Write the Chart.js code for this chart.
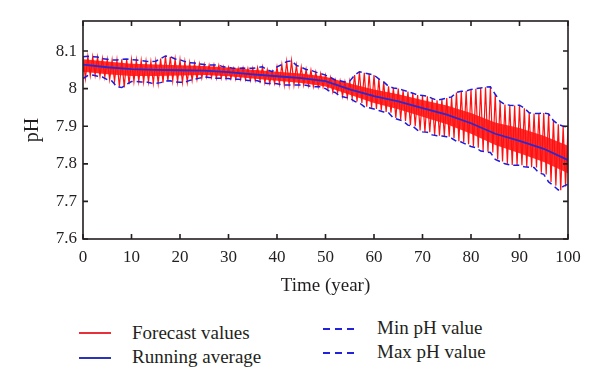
<!DOCTYPE html>
<html>
<head>
<meta charset="utf-8">
<script src="https://cdn.jsdelivr.net/npm/chart.js@4.4.1/dist/chart.umd.min.js"></script>
<style>
  html, body { margin: 0; padding: 0; background: #fff; }
  #wrap { position: relative; width: 600px; height: 390px; font-family: 'Liberation Serif', 'DejaVu Serif', serif; color: #231f20; }
  #c { position: absolute; left: 0; top: 0; }
  .lg-line { position: absolute; height: 2px; width: 32px; }
  .lg-dash { background: repeating-linear-gradient(to right, #2222dd 0 7px, transparent 7px 12px); }
  .lg-text { position: absolute; font-size: 19px; line-height: 20px; white-space: nowrap; }
</style>
</head>
<body>
<div id="wrap">
  <canvas id="c" width="600" height="300"></canvas>
  <div class="lg-line" style="left:79px;top:332px;background:#e8303a;"></div>
  <div class="lg-text" style="left:132px;top:323px;">Forecast values</div>
  <div class="lg-line" style="left:79px;top:357px;background:#2a34b8;"></div>
  <div class="lg-text" style="left:132px;top:347px;">Running average</div>
  <div class="lg-line lg-dash" style="left:323px;top:328px;"></div>
  <div class="lg-text" style="left:377px;top:318px;">Min pH value</div>
  <div class="lg-line lg-dash" style="left:323px;top:352px;"></div>
  <div class="lg-text" style="left:377px;top:342px;">Max pH value</div>
</div>
<script>
// tick labels
const xTicks = [0, 10, 20, 30, 40, 50, 60, 70, 80, 90, 100];
const yTicks = [7.6, 7.7, 7.8, 7.9, 8.0, 8.1];

// yearly max pH (year 0..100)
const maxPH = [
  8.085, 8.086, 8.085, 8.084, 8.080, 8.078, 8.076, 8.076, 8.078, 8.079,
  8.077, 8.076, 8.075, 8.073, 8.072, 8.073, 8.080, 8.087, 8.085, 8.079,
  8.077, 8.072, 8.069, 8.068, 8.066, 8.064, 8.063, 8.063, 8.062, 8.058,
  8.057, 8.054, 8.054, 8.055, 8.054, 8.054, 8.056, 8.058, 8.050, 8.045,
  8.058, 8.064, 8.072, 8.074, 8.062, 8.057, 8.051, 8.049, 8.044, 8.040,
  8.036, 8.030, 8.023, 8.021, 8.018, 8.020, 8.036, 8.045, 8.042, 8.039,
  8.036, 8.026, 8.018, 8.006, 8.002, 8.000, 7.996, 7.992, 7.988, 7.983,
  7.982, 7.980, 7.974, 7.969, 7.972, 7.975, 7.978, 7.990, 7.993, 7.994,
  7.998, 8.000, 8.002, 8.004, 8.005, 7.985, 7.966, 7.958, 7.956, 7.955,
  7.956, 7.948, 7.936, 7.934, 7.934, 7.935, 7.933, 7.915, 7.905, 7.900,
  7.898
];

// yearly min pH (year 0..100)
const minPH = [
  8.027, 8.035, 8.036, 8.033, 8.031, 8.024, 8.020, 8.005, 8.003, 8.012,
  8.019, 8.019, 8.018, 8.018, 8.015, 8.014, 8.016, 8.020, 8.021, 8.018,
  8.017, 8.017, 8.022, 8.025, 8.028, 8.031, 8.030, 8.028, 8.028, 8.027,
  8.027, 8.025, 8.025, 8.024, 8.022, 8.022, 8.021, 8.016, 8.014, 8.014,
  8.013, 8.010, 8.010, 8.010, 8.010, 8.010, 8.009, 8.006, 8.005, 8.005,
  8.000, 7.992, 7.990, 7.980, 7.977, 7.975, 7.966, 7.962, 7.952, 7.949,
  7.946, 7.942, 7.938, 7.936, 7.922, 7.918, 7.914, 7.903, 7.900, 7.889,
  7.885, 7.884, 7.877, 7.875, 7.874, 7.872, 7.868, 7.860, 7.858, 7.852,
  7.846, 7.843, 7.834, 7.832, 7.830, 7.812, 7.806, 7.800, 7.797, 7.796,
  7.796, 7.792, 7.791, 7.790, 7.776, 7.772, 7.752, 7.742, 7.730, 7.740,
  7.746
];

// 5-year points: running average and the dense band of forecast values around it
const avgYears = [0, 5, 10, 15, 20, 25, 30, 35, 40, 45, 50, 55, 60, 65, 70, 75, 80, 85, 90, 95, 100];
const avgPH = [
  8.064, 8.057, 8.052, 8.050, 8.049, 8.048, 8.044, 8.038, 8.033, 8.028,
  8.020, 7.998, 7.980, 7.966, 7.948, 7.931, 7.908, 7.880, 7.861, 7.840,
  7.810
];
const coreHi = [
  8.078, 8.072, 8.066, 8.064, 8.062, 8.060, 8.056, 8.050, 8.045, 8.040,
  8.032, 8.014, 7.998, 7.985, 7.970, 7.955, 7.935, 7.910, 7.895, 7.875,
  7.848
];
const coreLo = [
  8.045, 8.038, 8.034, 8.034, 8.035, 8.036, 8.033, 8.027, 8.021, 8.015,
  8.006, 7.984, 7.962, 7.945, 7.925, 7.905, 7.880, 7.850, 7.828, 7.805,
  7.775
];

// forecast: swings between each year's max and min
const forecast = [];
maxPH.forEach((hi, yr) => {
  forecast.push({ x: yr, y: hi });
  forecast.push({ x: yr + 0.5, y: minPH[yr] });
});

const ink = '#231f20';
const serif = "'Liberation Serif', 'DejaVu Serif', serif";

const frame = {
  id: 'frame',
  afterDatasetsDraw(chart) {
    const { ctx, chartArea: a, scales: { x, y } } = chart;
    ctx.save();
    ctx.strokeStyle = ink;
    ctx.lineWidth = 1.6;
    ctx.strokeRect(a.left, a.top, a.right - a.left, a.bottom - a.top);
    ctx.beginPath();
    xTicks.forEach(v => {
      const px = x.getPixelForValue(v);
      ctx.moveTo(px, a.bottom); ctx.lineTo(px, a.bottom - 5);
      ctx.moveTo(px, a.top); ctx.lineTo(px, a.top + 5);
    });
    yTicks.forEach(v => {
      const py = y.getPixelForValue(v);
      ctx.moveTo(a.left, py); ctx.lineTo(a.left + 5, py);
      ctx.moveTo(a.right, py); ctx.lineTo(a.right - 5, py);
    });
    ctx.stroke();
    ctx.restore();
  }
};

new Chart(document.getElementById('c'), {
  type: 'line',
  data: {
    datasets: [
      {
        label: 'Running average',
        data: avgPH.map((v, i) => ({ x: avgYears[i], y: v })),
        borderColor: '#2a2ad0',
        borderWidth: 1.8,
        order: 1,
      },
      {
        label: 'Min pH value',
        data: minPH.map((v, i) => ({ x: i, y: v })),
        borderColor: '#1c1ce0',
        borderWidth: 1.5,
        borderDash: [6, 4],
        order: 1,
      },
      {
        label: 'Max pH value',
        data: maxPH.map((v, i) => ({ x: i, y: v })),
        borderColor: '#1c1ce0',
        borderWidth: 1.5,
        borderDash: [6, 4],
        order: 1,
      },
      {
        label: 'Forecast values',
        data: forecast,
        borderColor: '#ff1010',
        borderWidth: 1.2,
        order: 2,
      },
      {
        label: 'core low',
        data: coreLo.map((v, i) => ({ x: avgYears[i], y: v })),
        borderWidth: 0,
        borderColor: 'rgba(0,0,0,0)',
        order: 3,
      },
      {
        label: 'core high',
        data: coreHi.map((v, i) => ({ x: avgYears[i], y: v })),
        borderWidth: 0,
        borderColor: 'rgba(0,0,0,0)',
        backgroundColor: 'rgba(255,24,24,0.9)',
        fill: '-1',
        order: 3,
      },
    ],
  },
  options: {
    responsive: false,
    animation: false,
    devicePixelRatio: 1,
    elements: { point: { radius: 0 }, line: { tension: 0 } },
    layout: { padding: { top: 21, right: 32, left: 0, bottom: 0 } },
    plugins: { legend: { display: false }, tooltip: { enabled: false } },
    scales: {
      x: {
        type: 'linear',
        min: 0,
        max: 100,
        afterFit: s => { s.height = 61; },
        afterBuildTicks: s => { s.ticks = xTicks.map(v => ({ value: v })); },
        grid: { display: false, drawTicks: false },
        border: { display: false },
        ticks: { color: ink, font: { family: serif, size: 17 }, padding: 8, maxRotation: 0 },
        title: { display: true, text: 'Time (year)', color: ink, font: { family: serif, size: 19 }, padding: { top: 0, bottom: 3 } },
      },
      y: {
        type: 'linear',
        min: 7.6,
        max: 8.18,
        afterFit: s => { s.width = 83; },
        afterBuildTicks: s => { s.ticks = yTicks.map(v => ({ value: v })); },
        grid: { display: false, drawTicks: false },
        border: { display: false },
        ticks: { color: ink, font: { family: serif, size: 17 }, padding: 6, callback: v => String(Number(v.toFixed(1))) },
        title: { display: true, text: 'pH', color: ink, font: { family: serif, size: 20 }, padding: { top: 21, bottom: 0 } },
      },
    },
  },
  plugins: [frame],
});
</script>
</body>
</html>
